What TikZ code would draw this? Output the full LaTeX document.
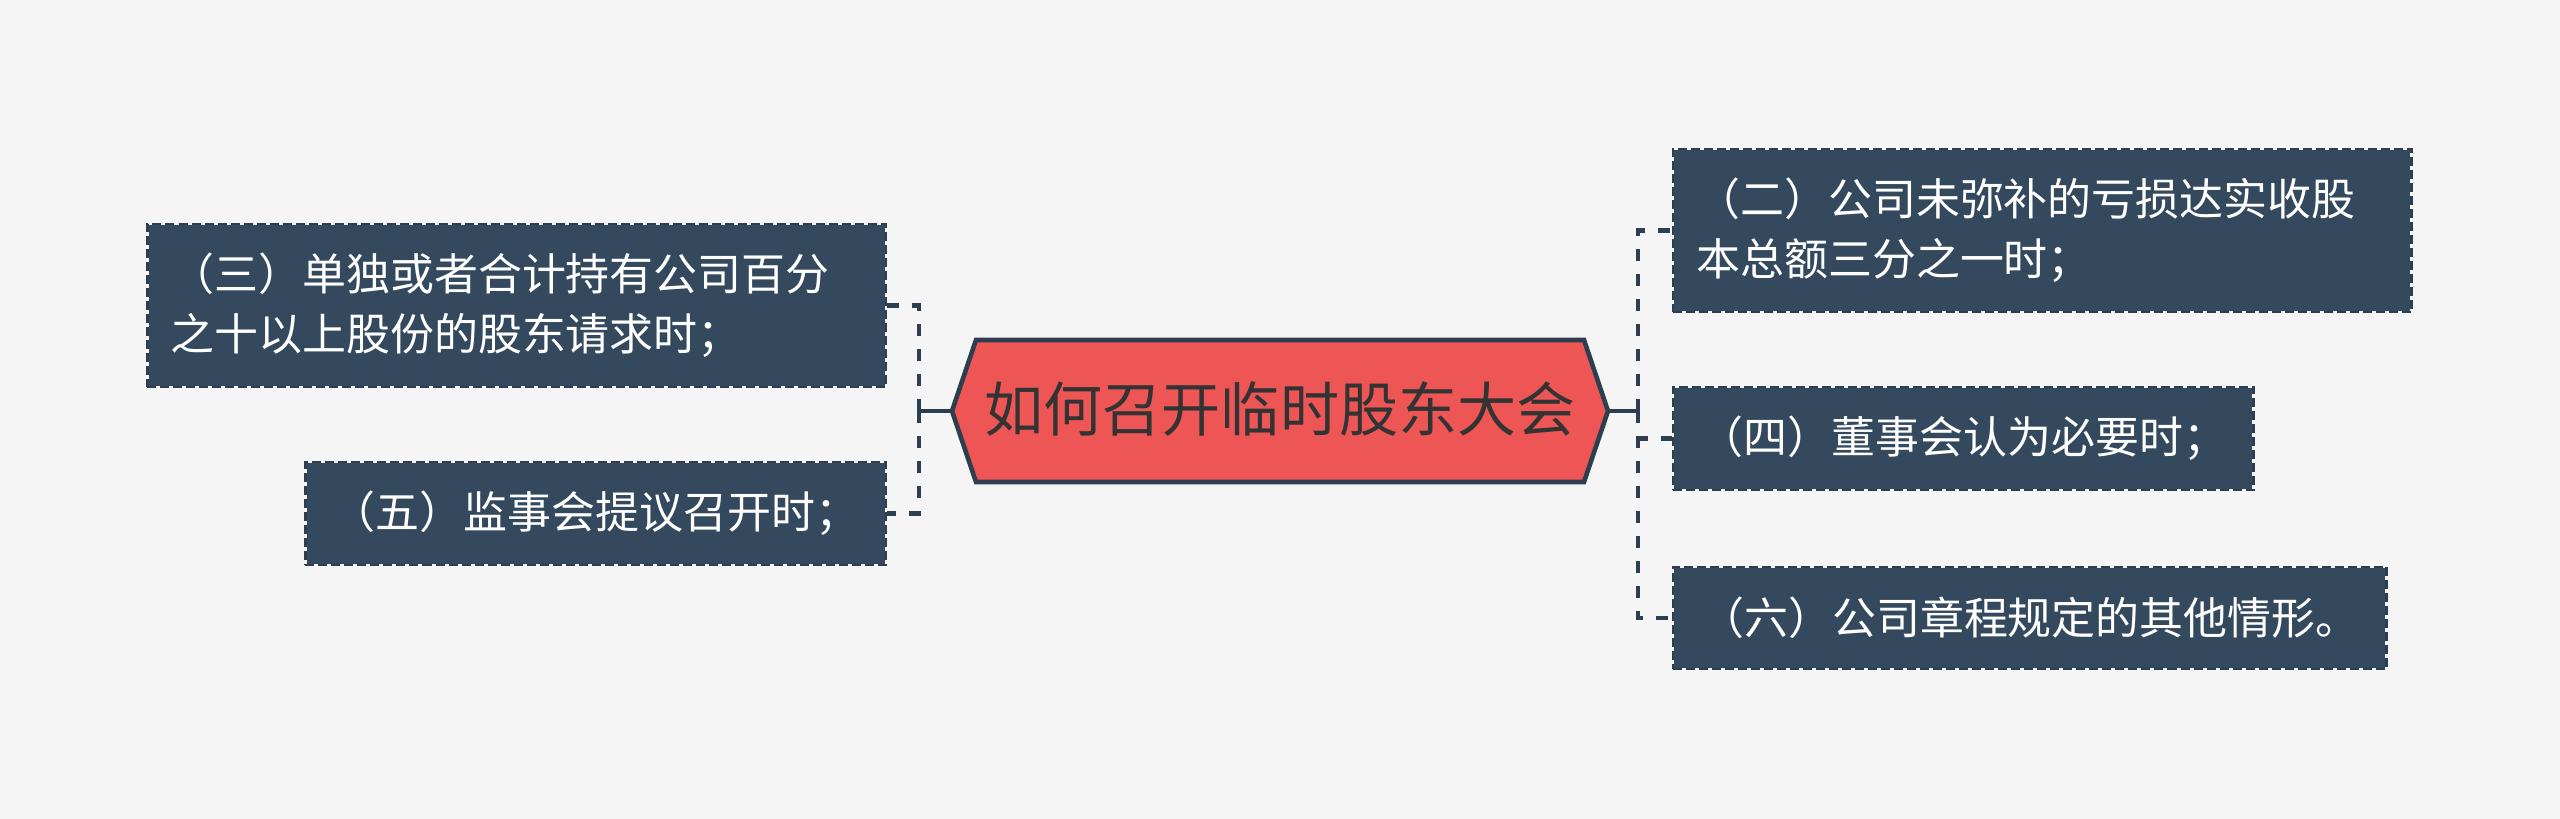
\documentclass[tikz,border=0pt]{standalone}
\usepackage{fontspec}
\newfontfamily\cjk{Noto Sans CJK SC}
\usepackage{xcolor}
\usetikzlibrary{positioning}

\definecolor{bgcol}{HTML}{F5F5F5}
\definecolor{leaffill}{HTML}{34495E}
\definecolor{linecol}{HTML}{2C3E50}
\definecolor{rootfill}{HTML}{EE5656}
\definecolor{roottext}{HTML}{333333}

\begin{document}
\begin{tikzpicture}[x=0.01cm, y=-0.01cm,
  leaf/.style={fill=leaffill, draw=bgcol, line width=0.7pt,
    postaction={draw=linecol, line width=0.7pt, dash pattern=on 0.09cm off 0.04cm},
    text=white, font=\cjk\fontsize{12.5}{17}\selectfont, inner sep=0pt, align=left},
  roottxt/.style={text=roottext, font=\cjk\fontsize{16.8}{20}\selectfont, inner sep=0pt},
  rootshape/.style={fill=rootfill, draw=linecol, line width=1.3pt, line join=miter},
  stem/.style={linecol, line width=1.3pt},
  link/.style={linecol, line width=1.4pt, dash pattern=on 0.12cm off 0.13cm}]
\def\lx{887}    % right edge of the left column
\def\rx{1672}   % left edge of the right column

\fill[bgcol] (0,0) rectangle (2560,819);
\useasboundingbox (0,0) rectangle (2560,819);

% ---------- centre ----------
\coordinate (rootW) at (952,411);
\coordinate (rootE) at (1608,411);
\filldraw[rootshape] (rootW) -- (976,340) -- (1584,340) -- (rootE) -- (1584,482) -- (976,482) -- cycle;
\node[roottxt] (root) at (1280,409) {如何召开临时股东大会};

% ---------- left column ----------
\node[leaf, anchor=east, minimum width=7.38cm, minimum height=1.63cm, text width=6.92cm]
  (b3) at (\lx,305.5) {（三）单独或者合计持有公司百分\\之十以上股份的股东请求时；};
\node[leaf, anchor=east, minimum width=5.80cm, minimum height=1.03cm]
  (b5) at (\lx,513.5) {（五）监事会提议召开时；};

% ---------- right column ----------
\node[leaf, anchor=west, minimum width=7.38cm, minimum height=1.63cm, text width=6.92cm]
  (b2) at (\rx,230.5) {（二）公司未弥补的亏损达实收股\\本总额三分之一时；};
\node[leaf, anchor=west, minimum width=5.80cm, minimum height=1.03cm]
  (b4) at (\rx,438.5) {（四）董事会认为必要时；};
\node[leaf, anchor=west, minimum width=7.13cm, minimum height=1.02cm]
  (b6) at (\rx,618) {（六）公司章程规定的其他情形。};

% ---------- connectors ----------
\coordinate (lhub) at (919,411);
\coordinate (rhub) at (1638,411);
\draw[stem] (rootW) -- (lhub);
\draw[stem] (rootE) -- (rhub);
\draw[link] (lhub) |- (b3.east);
\draw[link] (lhub) |- (b5.east);
\draw[link] (rhub) |- (b2.west);
\draw[link] (rhub) |- (b4.west);
\draw[link] (rhub) |- (b6.west);

\end{tikzpicture}
\end{document}
